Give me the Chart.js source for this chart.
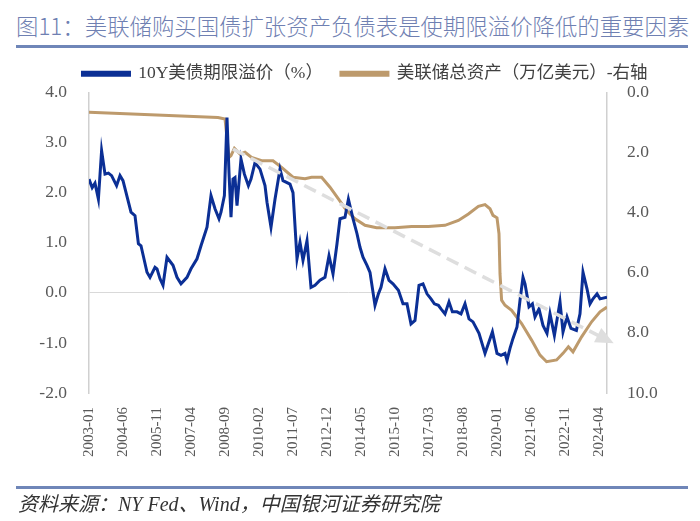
<!DOCTYPE html>
<html>
<head>
<meta charset="utf-8">
<script src="https://cdn.jsdelivr.net/npm/chart.js@4.4.1/dist/chart.umd.min.js"></script>
<style>
  body { margin: 0; width: 700px; height: 521px; background: #fff; position: relative; overflow: hidden; }
  #title { position: absolute; left: 16px; top: 9px; font: 300 22.4px 'Noto Sans CJK SC', sans-serif; color: #6f80b2; white-space: nowrap; }
  #titleLine { position: absolute; left: 16px; right: 12px; top: 45px; height: 3px; background: #6f86b8; }
  #footLine { position: absolute; left: 16px; right: 12px; top: 486px; height: 3px; background: #6f86b8; }
  #foot { position: absolute; left: 18px; top: 488px; font: italic 20px 'Liberation Serif', 'Noto Sans CJK SC', serif; color: #333; white-space: nowrap; }
  #wrap { position: absolute; left: 0; top: 0; width: 700px; height: 521px; }
</style>
</head>
<body>
<div id="title">图11：美联储购买国债扩张资产负债表是使期限溢价降低的重要因素</div>
<div id="titleLine"></div>
<div id="wrap"><canvas id="chart" width="700" height="521"></canvas></div>
<div id="footLine"></div>
<div id="foot">资料来源：NY Fed、Wind，中国银河证券研究院</div>
<script>
// x 单位：自 2003-01 起的月数
const tickLabels = ['2003-01', '2004-06', '2005-11', '2007-04', '2008-09', '2010-02', '2011-07', '2012-12',
  '2014-05', '2015-10', '2017-03', '2018-08', '2020-01', '2021-06', '2022-11', '2024-04'];

const tpMonths = [0, 1.6, 3, 4.7, 6.3, 8, 9.7, 11.3, 13.8, 15.5, 17, 21, 23, 24.7, 26, 29, 30.5, 33, 34, 35.5,
  37, 39, 42, 44, 46, 49, 51, 54, 56, 59, 61, 63, 65, 66, 67.7, 69, 70, 71, 72, 73,
  74, 76, 77.7, 79.7, 81, 83, 85.5, 88, 89, 91, 93, 95.5, 97, 100.5, 102, 104, 105.5, 107, 109, 111,
  113, 115.5, 118, 120, 122, 124, 125.5, 128, 129.7, 132, 134, 135.5, 137, 139, 140.5, 143, 144.7, 146, 148, 150,
  152, 154.7, 157, 159, 161, 163, 165, 167, 169, 171, 172.7, 174.7, 176, 178, 180, 181.7, 184, 186, 188, 190,
  192, 195, 198, 199.7, 201.7, 204, 206, 208, 209, 210.5, 212, 214, 215.5, 217, 218, 220, 221.7, 223, 225, 227,
  229, 230.5, 232.7, 235.5, 237, 239, 241, 243.7, 245.5, 247, 249, 250.5, 252, 254, 255.5, 259];
const tpValues = [2.27, 2.1, 2.19, 1.87, 2.84, 2.37, 2.39, 2.34, 2.14, 2.34, 2.24, 1.61, 1.54, 0.98, 0.94, 0.41, 0.31, 0.51, 0.48, 0.28,
  0.15, 0.71, 0.55, 0.31, 0.18, 0.31, 0.48, 0.68, 0.94, 1.31, 1.94, 1.68, 1.48, 1.61, 1.94, 3.5, 2.4, 1.51, 2.27, 2.3,
  1.74, 2.67, 2.37, 2.14, 2.27, 2.6, 2.47, 2.14, 1.81, 1.31, 1.87, 2.47, 2.24, 2.17, 2.0, 0.68, 1.01, 0.65, 1.04, 0.11,
  0.15, 0.25, 0.31, 0.74, 0.38, 0.98, 1.48, 1.51, 1.87, 1.48, 1.18, 0.91, 0.71, 0.55, 0.41, -0.25, -0.02, 0.11, 0.48, 0.25,
  0.18, 0.05, -0.22, -0.22, -0.62, -0.55, 0.15, 0.18, -0.02, -0.12, -0.22, -0.25, -0.32, -0.42, -0.18, -0.38, -0.38, -0.42, -0.22, -0.52,
  -0.58, -0.81, -1.21, -1.01, -0.78, -1.21, -1.25, -1.21, -1.35, -1.11, -0.91, -0.68, -0.15, 0.31, 0.18, -0.28, -0.22, -0.48, -0.32, -0.65,
  -0.81, -0.42, -0.85, -0.18, -0.78, -0.48, -0.71, -0.75, -0.42, 0.41, 0.08, -0.22, -0.12, -0.02, -0.12, -0.09];

const fedMonths = [0, 64.5, 68, 70, 71, 72.7, 75.5, 78, 81.3, 86.3, 92, 96.3, 102, 108, 111.3, 116.3, 120.5, 124.7, 128.8, 133,
  138, 143.8, 153, 161.3, 169.7, 178, 184.7, 189.7, 194.7, 198, 200.5, 202, 204, 205, 205.5, 206.3, 208, 211.3, 216.3, 221.3,
  225.5, 228.8, 233.8, 237, 239.7, 242, 246.3, 251.3, 255.5, 259];
const fedValues = [0.66, 0.83, 0.88, 2.16, 2.1, 1.86, 2.05, 1.99, 2.16, 2.27, 2.27, 2.49, 2.82, 2.87, 2.82, 2.82, 3.15, 3.54, 3.93, 4.2,
  4.42, 4.5, 4.5, 4.46, 4.46, 4.42, 4.26, 4.04, 3.79, 3.73, 3.87, 4.09, 4.17, 4.7, 6.03, 6.91, 7.08, 7.25, 7.69, 8.24,
  8.74, 8.96, 8.9, 8.68, 8.46, 8.63, 8.13, 7.63, 7.3, 7.14];

// 趋势箭头（左轴刻度）
const trendMonths = [72, 257];
const trendValues = [2.87, -0.9];

const toPoints = (xs, ys) => xs.map((x, i) => ({ x, y: ys[i] }));
const serif = "'Liberation Serif', 'Noto Sans CJK SC', serif";

const arrowHead = {
  id: 'arrowHead',
  afterDatasetsDraw(chart) {
    const pts = chart.getDatasetMeta(0).data;
    const a = pts[0], b = pts[pts.length - 1];
    const ang = Math.atan2(b.y - a.y, b.x - a.x);
    const c = chart.ctx;
    c.save();
    c.translate(b.x, b.y);
    c.rotate(ang);
    c.fillStyle = '#dedede';
    c.beginPath();
    c.moveTo(12, 0);
    c.lineTo(-6, -8);
    c.lineTo(-6, 8);
    c.closePath();
    c.fill();
    c.restore();
  }
};

new Chart(document.getElementById('chart'), {
  type: 'line',
  data: {
    datasets: [
      { label: 'trend', data: toPoints(trendMonths, trendValues), yAxisID: 'y',
        borderColor: '#dedede', backgroundColor: '#dedede', borderWidth: 3.5, borderDash: [13, 7],
        pointRadius: 0, clip: false },
      { label: '10Y美债期限溢价（%）', data: toPoints(tpMonths, tpValues), yAxisID: 'y',
        borderColor: '#0b2f95', backgroundColor: '#0b2f95', borderWidth: 3, pointRadius: 0 },
      { label: '美联储总资产（万亿美元）-右轴', data: toPoints(fedMonths, fedValues), yAxisID: 'y1',
        borderColor: '#bd9a6c', backgroundColor: '#bd9a6c', borderWidth: 3, pointRadius: 0 }
    ]
  },
  options: {
    responsive: false,
    animation: false,
    layout: { padding: { top: 47, left: 30, right: 0, bottom: 0 } },
    plugins: {
      tooltip: { enabled: false },
      legend: {
        position: 'top',
        labels: {
          filter: item => item.text !== 'trend',
          boxWidth: 47, boxHeight: 3, padding: 18,
          color: '#404040',
          font: { family: serif, size: 17.5 }
        }
      }
    },
    scales: {
      x: {
        type: 'linear', min: 0, max: 259,
        afterBuildTicks: s => { s.ticks = tickLabels.map((l, i) => ({ value: i * 17 })); },
        afterFit: s => { s.height = 128; },
        ticks: {
          autoSkip: false, minRotation: 90, maxRotation: 90, padding: 6,
          color: '#595959', font: { family: serif, size: 15 },
          callback: (v, i) => tickLabels[i]
        },
        grid: { display: false },
        border: { display: false }
      },
      y: {
        position: 'left', min: -2, max: 4,
        afterFit: s => { s.width = 59; },
        ticks: { stepSize: 1, padding: 22, color: '#595959', font: { family: serif, size: 17.5 },
          callback: v => v.toFixed(1) },
        grid: { drawTicks: false, color: c => c.tick.value === 0 ? '#d9d9d9' : 'rgba(0,0,0,0)' },
        border: { display: true, color: '#d0d0d0', width: 1.5 }
      },
      y1: {
        position: 'right', min: 0, max: 10, reverse: true,
        afterFit: s => { s.width = 93; },
        ticks: { stepSize: 2, padding: 20, color: '#595959', font: { family: serif, size: 17.5 },
          callback: v => v.toFixed(1) },
        grid: { display: false, drawTicks: false },
        border: { display: true, color: '#d0d0d0', width: 1.5 }
      }
    }
  },
  plugins: [arrowHead]
});
</script>
</body>
</html>
